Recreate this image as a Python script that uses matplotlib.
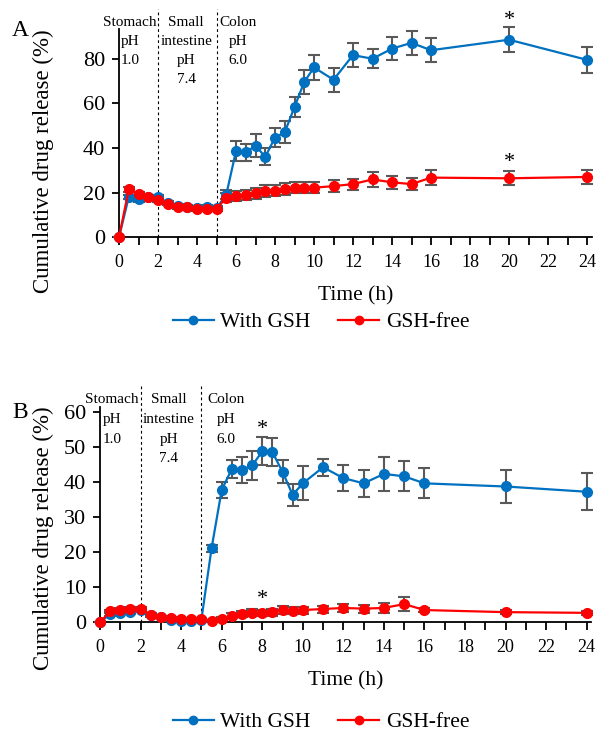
import matplotlib
matplotlib.use("Agg")
import matplotlib.pyplot as plt
from matplotlib.lines import Line2D
import numpy as np

plt.rcParams['font.family'] = ['Liberation Serif', 'DejaVu Serif']

# ---- data ----
time_h = [0, 0.5, 1, 1.5, 2, 2.5, 3, 3.5, 4, 4.5, 5, 5.5, 6, 6.5, 7, 7.5, 8, 8.5,
          9, 9.5, 10, 11, 12, 13, 14, 15, 16, 20, 24]

a_gsh = [0, 18, 17, 18, 18, 15.5, 14, 13.5, 13, 13.5, 13, 19, 38.6, 38, 41, 36, 44.6, 47,
         58.3, 69.5, 76, 70.5, 81.5, 79.9, 84.4, 87, 83.7, 88.4, 79.4]
a_gsh_err = [0, 1, 1, 1, 1, 0.8, 0.8, 0.8, 0.8, 0.8, 0.8, 2, 4.5, 3.7, 5.2, 3.8, 4.3, 4.9,
             4.6, 5.2, 5.6, 5.4, 5.5, 4.3, 5.2, 5.4, 5.3, 5.6, 5.8]
a_free = [0, 21.4, 19.3, 18, 16.6, 15.1, 13.6, 13.4, 12.6, 12.8, 12.7, 17.8, 18.4, 18.9,
          19.6, 20.7, 20.9, 21.7, 22.2, 22.2, 22.2, 22.9, 23.8, 25.9, 24.6, 23.8, 26.7, 26.4, 27]
a_free_err = [0, 1, 1, 0.8, 0.8, 0.8, 0.8, 0.8, 0.8, 0.8, 0.8, 2.2, 2.2, 2.3, 2.4, 2.5, 2.5,
              2.6, 2.5, 2.5, 2.5, 2.8, 2.5, 3.4, 2.8, 2.6, 3.5, 3.2, 3.0]

b_gsh = [0, 2.4, 2.8, 3, 3.5, 2, 1.5, 0.6, 0.5, 0.5, 0.8, 21.1, 37.8, 43.8, 43.6, 44.8, 48.8,
         48.6, 43, 36.4, 39.7, 44.3, 41.2, 39.7, 42.4, 41.7, 39.7, 38.8, 37.3]
b_gsh_err = [0, 0.5, 0.5, 0.5, 0.5, 0.4, 0.4, 0.3, 0.3, 0.3, 0.3, 1.0, 2.4, 2.7, 3.7, 4.2, 4.0,
             4.0, 3.3, 3.2, 4.9, 2.4, 3.6, 3.8, 4.8, 4.3, 4.3, 4.6, 5.3]
b_free = [0, 3.1, 3.6, 3.8, 3.8, 2.2, 1.6, 1.2, 1.0, 1.0, 1.0, 0.5, 1.0, 1.9, 2.4, 2.7, 2.7,
          2.9, 3.5, 3.3, 3.5, 3.8, 4.1, 3.9, 4.1, 5.2, 3.5, 2.9, 2.7]
b_free_err = [0, 0.5, 0.5, 0.5, 0.5, 0.4, 0.3, 0.3, 0.3, 0.3, 0.3, 0.3, 0.4, 0.8, 0.9, 1.0, 0.9,
              1.0, 1.1, 1.0, 1.0, 1.0, 1.1, 1.1, 1.3, 1.9, 0.6, 0.5, 0.5]

labels = ["With GSH", "GSH-free"]
regions = [["Stomach", "pH", "1.0"], ["Small", "intestine", "pH", "7.4"], ["Colon", "pH", "6.0"]]
region_x = {"A": [0.55, 3.45, 6.1], "B": [0.6, 3.4, 6.2]}
boundaries = [2, 5]
x_ticks = list(range(0, 25, 2))
star_a = [(20, 97), (20, 33.5)]
star_b = [(8, 55), (8, 6.6)]

BLUE = '#0070C0'
RED = '#FF0000'
ERR = '#595959'

W, H = 600, 741
fig = plt.figure(figsize=(W / 100, H / 100), dpi=100)


def px_axes(left, right, top, bottom):
    return fig.add_axes([left / W, 1 - bottom / H, (right - left) / W, (bottom - top) / H])


def draw(ax, gsh, gsh_err, free, free_err, ylim, yticks, key, stars, line_top):
    for y, e, c, lab in [(gsh, gsh_err, BLUE, labels[0]), (free, free_err, RED, labels[1])]:
        ax.errorbar(time_h, y, yerr=e, color=c, ecolor=ERR, elinewidth=1.5, capsize=4,
                    capthick=1.5, marker='o', markersize=7, lw=1.6, label=lab,
                    clip_on=False, zorder=3)
    ax.set_xlim(0, 24.25)
    ax.set_ylim(*ylim)
    ax.set_xticks(x_ticks)
    ax.set_xticks(range(0, 25), minor=True)
    ax.set_yticks(yticks)
    ax.spines['top'].set_visible(False)
    ax.spines['right'].set_visible(False)
    for s in ['left', 'bottom']:
        ax.spines[s].set_linewidth(1.3)
    ax.tick_params(axis='x', which='both', direction='out', length=6, width=1.3, labelsize=13, pad=6)
    ax.tick_params(axis='y', which='both', direction='out', length=5, width=1.3, labelsize=16, pad=5)
    ax.set_xlabel("Time (h)", fontsize=15.5, labelpad=11)
    ax.set_ylabel("Cumulative drug release (%)", fontsize=16.5)
    trans = ax.get_xaxis_transform()
    for b in boundaries:
        ax.plot([b, b], [0, line_top], transform=trans, color='black', ls=(0, (2.5, 2.5)),
                lw=0.8, clip_on=False, zorder=1)
    for xs, lines in zip(region_x[key], regions):
        for i, t in enumerate(lines):
            ax.text(xs, 1.035 - i * 0.092, t, transform=trans, ha='center', va='center',
                    fontsize=11)
    for sx, sy in stars:
        ax.text(sx, sy, "*", ha='center', va='center', fontsize=16, clip_on=False)


def legend(ax, ycenter):
    handles = [Line2D([], [], color=BLUE, marker='o', markersize=6, lw=1.6),
               Line2D([], [], color=RED, marker='o', markersize=6, lw=1.6)]
    ax.legend(handles, labels, loc='center', bbox_to_anchor=(321 / W, 1 - ycenter / H),
              bbox_transform=fig.transFigure, ncol=2, frameon=False, fontsize=15.5,
              handlelength=1.9, columnspacing=1.3, handletextpad=0.3)


axA = px_axes(119, 119 + 24.25 * 19.5, 237.3 - 93 * 2.235, 237.3)
draw(axA, a_gsh, a_gsh_err, a_free, a_free_err, (0, 93), [0, 20, 40, 60, 80], "A", star_a, 1.1)
axA.yaxis.set_label_coords((54 - 119) / (24.25 * 19.5), (237.3 - 161) / (93 * 2.235))
legend(axA, 322)
fig.text(12 / W, 1 - 30 / H, "A", fontsize=17, ha='left', va='center')

axB = px_axes(100, 100 + 24.2 * 20.28, 622.3 - 61.5 * 3.5, 622.3)
draw(axB, b_gsh, b_gsh_err, b_free, b_free_err, (0, 61.5), [0, 10, 20, 30, 40, 50, 60], "B",
     star_b, 1.1)
axB.set_xlim(0, 24.2)
axB.yaxis.set_label_coords((54 - 100) / (24.2 * 20.28), (622.3 - 538) / (61.5 * 3.5))
legend(axB, 722)
fig.text(12 / W, 1 - 412 / H, "B", fontsize=17, ha='left', va='center')

fig.savefig("out.png", dpi=100)
